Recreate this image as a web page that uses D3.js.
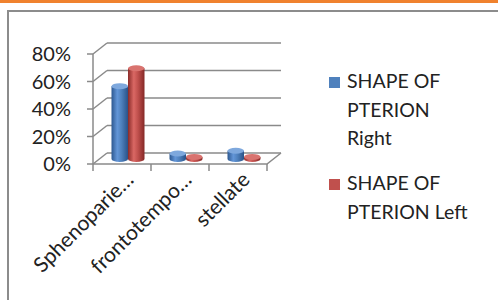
<!DOCTYPE html>
<html>
<head>
<meta charset="utf-8">
<script src="https://cdn.jsdelivr.net/npm/d3@7"></script>
<style>
  body { margin: 0; background: #fff; }
  svg { display: block; }
  text { font-family: Lato, "Open Sans", sans-serif; fill: #222; }
</style>
</head>
<body>
<div id="chart"></div>
<script>
// data
let categories = ["Sphenoparie…", "frontotempo…", "stellate"];
let seriesNames = ["Right", "Left"];
let rightValues = [0.53, 0.04, 0.06];
let leftValues = [0.66, 0.015, 0.015];
let yTicks = [0, 0.2, 0.4, 0.6, 0.8];
let legendLines = [["SHAPE OF", "PTERION", "Right"], ["SHAPE OF", "PTERION Left"]];

let width = 498, height = 300;
let depthX = 14, depthY = -11;    // back wall offset
let barDX = 6, barDY = -5;        // bars sit mid depth

let svg = d3.select("#chart").append("svg")
  .attr("width", width)
  .attr("height", height);

// orange band + frame
svg.append("rect").attr("x", 0).attr("y", 0).attr("width", width).attr("height", 3).attr("fill", "#f0822e");
svg.append("path")
  .attr("d", "M8,300 V11 H498")
  .attr("fill", "none").attr("stroke", "#8c8c8c").attr("stroke-width", 2);

let y = d3.scaleLinear().domain([0, 0.8]).range([164, 54]);
let x = d3.scaleBand().domain(categories).range([93, 267]);
let x1 = d3.scaleBand().domain(seriesNames).range([-16.5, 16.5]);

let grid = svg.append("g").attr("stroke", "#8a8a8a").attr("stroke-width", 1.5).attr("fill", "none");

// back wall lines and side diagonals
yTicks.forEach(function (t) {
  let yy = y(t);
  grid.append("line")
    .attr("x1", x.range()[0] + depthX).attr("x2", x.range()[1] + depthX)
    .attr("y1", yy + depthY).attr("y2", yy + depthY);
  grid.append("line")
    .attr("x1", x.range()[0]).attr("x2", x.range()[0] + depthX)
    .attr("y1", yy).attr("y2", yy + depthY);
  grid.append("line")
    .attr("x1", x.range()[0] - 6).attr("x2", x.range()[0])
    .attr("y1", yy).attr("y2", yy);
});
// floor
grid.append("path")
  .attr("d", "M" + x.range()[0] + "," + y(0) + " H" + x.range()[1] +
    " L" + (x.range()[1] + depthX) + "," + (y(0) + depthY));
// vertical axis
grid.append("line")
  .attr("x1", x.range()[0]).attr("x2", x.range()[0])
  .attr("y1", y(0.8)).attr("y2", y(0));
// category ticks
let catEdges = categories.map(function (c) { return x(c); }).concat([x.range()[1]]);
catEdges.forEach(function (cx) {
  grid.append("line").attr("x1", cx).attr("x2", cx).attr("y1", y(0)).attr("y2", y(0) + 7);
});

// y labels
svg.append("g").selectAll("text")
  .data(yTicks)
  .enter().append("text")
  .attr("x", 71)
  .attr("y", function (d) { return y(d) + 7; })
  .attr("text-anchor", "end")
  .attr("font-size", 20)
  .text(function (d) { return Math.round(d * 100) + "%"; });

// x labels
svg.append("g").selectAll("text")
  .data(categories)
  .enter().append("text")
  .attr("text-anchor", "end")
  .attr("font-size", 21)
  .attr("transform", function (d) {
    let cx = x(d) + x.bandwidth() / 2 + 13;
    return "translate(" + cx + "," + 181 + ") rotate(-45)";
  })
  .text(function (d) { return d; });

// gradients for cylinders
let defs = svg.append("defs");
let colors = {
  Right: { stops: ["#2d5890", "#6396d8", "#4f81bd", "#2a5288"], top: "#7ea8dd" },
  Left: { stops: ["#8a2b29", "#da6864", "#c0504d", "#852826"], top: "#d9736f" }
};
seriesNames.forEach(function (s) {
  let g = defs.append("linearGradient").attr("id", "grad_" + s)
    .attr("x1", "0%").attr("x2", "100%").attr("y1", "0%").attr("y2", "0%");
  [0, 0.35, 0.6, 1].forEach(function (o, i) {
    g.append("stop").attr("offset", o * 100 + "%").attr("stop-color", colors[s].stops[i]);
  });
});

let barData = [];
categories.forEach(function (c, i) {
  barData.push({ cat: c, s: "Right", v: rightValues[i] });
  barData.push({ cat: c, s: "Left", v: leftValues[i] });
});

let ry = 3;
let bars = svg.append("g").selectAll("g")
  .data(barData)
  .enter().append("g");

bars.each(function (d) {
  let g = d3.select(this);
  let left = x(d.cat) + x.bandwidth() / 2 + barDX + x1(d.s);
  let w = x1.bandwidth();
  let cx = left + w / 2;
  let top = y(d.v) + barDY;
  let bottom = y(0) + barDY;
  g.append("path")
    .attr("d", "M" + left + "," + top + " V" + bottom +
      " A" + (w / 2) + "," + ry + " 0 0 0 " + (left + w) + "," + bottom +
      " V" + top + " Z")
    .attr("fill", "url(#grad_" + d.s + ")");
  g.append("ellipse")
    .attr("cx", cx).attr("cy", top)
    .attr("rx", w / 2).attr("ry", ry)
    .attr("fill", colors[d.s].top);
});

// legend
let legendTop = [88, 190];
let legend = svg.append("g");
legendLines.forEach(function (lines, i) {
  let s = seriesNames[i];
  legend.append("rect")
    .attr("x", 329).attr("y", legendTop[i] - 11)
    .attr("width", 11).attr("height", 11)
    .attr("fill", colors[s].stops[2]);
  lines.forEach(function (t, j) {
    legend.append("text")
      .attr("x", 347).attr("y", legendTop[i] + j * 28.5)
      .attr("font-size", 19.5)
      .text(t);
  });
});
</script>
</body>
</html>
